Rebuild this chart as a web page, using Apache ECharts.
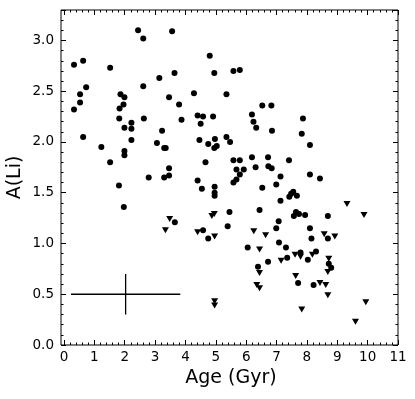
<!DOCTYPE html>
<html>
<head>
<meta charset="utf-8">
<script src="https://cdn.jsdelivr.net/npm/echarts@6/dist/echarts.min.js"></script>
<style>
  html, body { margin: 0; padding: 0; background: #fff; }
  #chart { width: 415px; height: 399px; }
</style>
</head>
<body>
<div id="chart"></div>
<script>
// detections: [age (Gyr), A(Li)]
var detections = [
  [0.33,2.76],[0.63,2.80],[0.53,2.47],[0.73,2.54],[0.53,2.39],[0.33,2.32],[0.63,2.05],
  [1.23,1.95],[1.52,2.73],[1.52,1.80],[1.86,2.47],[1.99,2.44],[1.96,2.37],[1.83,2.33],
  [1.82,2.23],[1.99,2.14],[2.22,2.19],[2.22,2.13],[2.22,2.02],[1.99,1.91],[1.99,1.87],
  [1.81,1.57],[1.97,1.36],
  [2.44,3.10],[2.61,3.02],[2.61,2.55],[2.63,2.23],[2.79,1.65],
  [3.14,2.63],[3.06,1.99],[3.23,2.11],[3.30,1.94],[3.35,1.94],[3.46,1.74],[3.46,1.67],
  [3.30,1.65],[3.56,3.09],[3.64,2.68],[3.46,2.44],[3.79,2.37],[3.87,2.22],[3.65,1.21],
  [4.28,2.48],[4.40,2.26],[4.58,2.25],[4.50,2.18],[4.46,2.02],[4.75,1.98],[4.66,1.80],
  [4.80,2.85],[4.95,2.68],[4.91,2.25],[4.97,2.03],[4.95,1.94],[5.03,1.96],
  [4.40,1.62],[4.54,1.54],[4.96,1.56],[4.96,1.50],[4.96,1.47],[4.58,1.13],[4.75,1.05],
  [5.35,2.47],[5.35,2.05],[5.47,2.00],[5.58,2.70],[5.79,2.71],[5.58,1.82],[5.79,1.82],
  [5.68,1.73],[5.92,1.73],[5.79,1.68],[5.58,1.60],[5.68,1.63],[5.45,1.31],[5.39,1.17],
  [6.53,2.36],[6.83,2.36],[6.19,2.27],[6.24,2.20],[6.33,2.14],[6.85,2.11],[6.19,1.85],
  [6.72,1.85],[6.31,1.75],[6.73,1.76],[6.84,1.74],[6.53,1.55],[6.44,1.33],[6.05,0.96],
  [6.72,0.82],[6.39,0.77],
  [7.87,2.23],[7.83,2.08],[7.41,1.82],[7.13,1.66],[6.99,1.58],[7.13,1.42],[7.42,1.46],
  [7.48,1.49],[7.55,1.51],[7.67,1.47],[7.57,1.27],[7.64,1.31],[7.74,1.29],[7.94,1.28],
  [7.07,1.22],[6.99,1.15],[7.08,1.01],[7.31,0.96],[7.35,0.86],[7.79,0.91],[7.71,0.61],
  [8.10,1.97],[8.10,1.68],[8.43,1.64],[8.69,1.27],[8.10,1.15],[8.15,1.05],[8.69,1.05],
  [8.30,0.92],[8.03,0.84],[8.72,0.80],[8.80,0.76],[8.22,0.59]
];
// upper limits (down triangles)
var upperLimits = [
  [3.48,1.24],[3.34,1.13],[4.40,1.11],[4.87,1.27],[4.95,1.29],[4.96,1.07],[4.96,0.43],
  [4.96,0.39],
  [6.25,1.12],[6.64,1.08],[6.44,0.94],[6.44,0.71],[6.35,0.59],[6.44,0.56],
  [7.15,0.83],[7.61,0.89],[7.79,0.87],[7.63,0.68],[7.83,0.35],
  [8.18,0.89],[8.57,1.09],[8.92,1.07],[8.72,0.85],[8.69,0.72],[8.43,0.61],[8.62,0.59],
  [8.69,0.49],
  [9.32,1.39],[9.88,1.28],[9.94,0.42],[9.60,0.23]
];
// typical error bar
var errCenter = [2.03, 0.5];
var errSize = [1.8, 0.2];

var xRange = [0, 11];
var yRange = [0, 3.3];

var chart = echarts.init(document.getElementById('chart'));
var font = 'DejaVu Sans';

function axisBase(pos, minor, isX) {
  var r = isX ? xRange : yRange;
  return {
    type: 'value',
    gridIndex: 0,
    position: pos,
    offset: isX ? 0 : 3,   // frame sits a little left of x=0
    min: r[0],
    max: r[1],
    interval: minor ? (isX ? 0.2 : 0.1) : (isX ? 1 : 0.5),
    splitLine: { show: false },
    axisLine: { show: false, onZero: false },
    axisTick: { show: true, inside: true, length: minor ? 2.5 : 5, lineStyle: { color: '#000', width: 1 } },
    axisLabel: { show: false }
  };
}

var xMain = axisBase('bottom', false, true);
xMain.axisLabel = { show: true, color: '#000', fontFamily: font, fontSize: 13.5, margin: 5 };
xMain.name = 'Age (Gyr)';
xMain.nameLocation = 'middle';
xMain.nameGap = 24;
xMain.nameMoveOverlap = false;
xMain.nameTextStyle = { color: '#000', fontFamily: font, fontSize: 19 };

var yMain = axisBase('left', false, false);
yMain.axisLabel = {
  show: true, color: '#000', fontFamily: font, fontSize: 13.5, margin: 7,
  formatter: function (v) { return Math.abs(v / 0.5 - Math.round(v / 0.5)) < 1e-6 ? v.toFixed(1) : ''; }
};
yMain.name = 'A(Li)';
yMain.nameLocation = 'middle';
yMain.nameGap = 36;
yMain.nameMoveOverlap = false;
yMain.nameTextStyle = { color: '#000', fontFamily: font, fontSize: 19 };

var yRight = axisBase('right', false, false);
var yRightMinor = axisBase('right', true, false);
yRight.offset = 0;
yRightMinor.offset = 0;

var option = {
  animation: false,
  backgroundColor: '#fff',
  grid: [
    { left: 64, right: 17, top: 10, bottom: 54, outerBoundsMode: 'none', containLabel: false },
    // frame only
    { left: 61, right: 17, top: 10, bottom: 54, outerBoundsMode: 'none', containLabel: false,
      show: true, borderColor: '#000', borderWidth: 1, backgroundColor: 'transparent' }
  ],
  xAxis: [xMain, axisBase('bottom', true, true), axisBase('top', false, true), axisBase('top', true, true)],
  yAxis: [yMain, axisBase('left', true, false), yRight, yRightMinor],
  series: [
    {
      type: 'scatter', name: 'detections',
      data: detections, symbol: 'circle', symbolSize: 6,
      itemStyle: { color: '#000', opacity: 1 }
    },
    {
      type: 'scatter', name: 'upper limits',
      data: upperLimits, symbol: 'triangle', symbolRotate: 180, symbolSize: [7, 6],
      itemStyle: { color: '#000', opacity: 1 }
    },
    {
      type: 'line', name: 'xerr', symbol: 'none',
      data: [[errCenter[0] - errSize[0], errCenter[1]], [errCenter[0] + errSize[0], errCenter[1]]],
      lineStyle: { color: '#000', width: 1.3 }
    },
    {
      type: 'line', name: 'yerr', symbol: 'none',
      data: [[errCenter[0], errCenter[1] - errSize[1]], [errCenter[0], errCenter[1] + errSize[1]]],
      lineStyle: { color: '#000', width: 1.3 }
    }
  ]
};
chart.setOption(option);
</script>
</body>
</html>
